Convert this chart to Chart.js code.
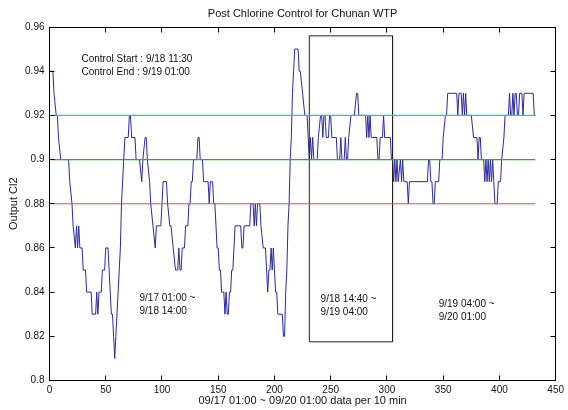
<!DOCTYPE html>
<html>
<head>
<meta charset="utf-8">
<script src="https://cdn.jsdelivr.net/npm/chart.js@4.4.1/dist/chart.umd.min.js"></script>
<style>
  html, body { margin: 0; padding: 0; background: #fff; }
  #wrap { width: 568px; height: 410px; }
</style>
</head>
<body>
<div id="wrap"><canvas id="chlorineChart" width="568" height="410"></canvas></div>
<script>
// sample number (10 min steps) and output Cl2, vertices of the plotted trace
const chlorineSamples = [
  [1,.94],[3,.94],[4,.93],[6,.92],[7,.92],[8,.91],[10,.90],[17,.90],[18,.89],[20,.88],[21,.87],[23,.86],[24,.87],[25,.86],[26,.87],[27,.86],[29,.86],[30,.85],[32,.85],[33,.84],
  [37,.84],[38,.83],[41,.83],[42,.84],[43,.83],[44,.84],[46,.84],[47,.85],[49,.85],[50,.86],[52,.86],[53,.85],[54,.84],[55,.83],[56,.83],[57,.82],[58,.81],[59,.82],[60,.83],
  [61,.84],[62,.85],[63,.86],[64,.88],[65,.89],[66,.90],[67,.91],[70,.91],[71,.92],[72,.92],[73,.91],[76,.91],[77,.90],[80,.90],[82,.89],[83,.90],[85,.91],[86,.91],[87,.90],
  [89,.89],[90,.88],[92,.87],[94,.86],[95,.87],[99,.87],[100,.88],[101,.89],[104,.89],[105,.88],[107,.87],[108,.87],[110,.86],[112,.85],[114,.85],[115,.86],[116,.85],[117,.85],
  [118,.86],[120,.86],[121,.87],[123,.87],[124,.88],[125,.88],[126,.89],[127,.89],[128,.90],[131,.90],[132,.91],[133,.91],[134,.90],[136,.90],[137,.89],[141,.89],[142,.88],
  [143,.89],[145,.89],[146,.88],[147,.88],[148,.87],[149,.86],[150,.86],[151,.85],[152,.85],[153,.84],[155,.84],[156,.83],[157,.84],[158,.83],[159,.83],[160,.84],[161,.84],
  [162,.85],[163,.85],[164,.86],[165,.87],[170,.87],[171,.86],[172,.86],[173,.87],[178,.87],[179,.88],[181,.88],[182,.87],[183,.88],[184,.87],[185,.88],[187,.88],[188,.87],
  [190,.86],[192,.86],[193,.85],[194,.84],[195,.85],[196,.85],[197,.86],[198,.85],[199,.86],[200,.85],[201,.84],[202,.84],[203,.83],[207,.83],[208,.82],[209,.82],[210,.84],
  [211,.85],[212,.87],[213,.88],[214,.90],[215,.91],[216,.93],[217,.94],[218,.95],[221,.95],[222,.94],[223,.94],[225,.93],[227,.92],[229,.92],[230,.91],[231,.90],[232,.91],
  [233,.90],[234,.91],[235,.90],[238,.90],[239,.91],[241,.92],[242,.92],[243,.91],[244,.92],[245,.92],[246,.91],[248,.91],[249,.92],[250,.92],[251,.91],[255,.91],[256,.90],
  [258,.90],[259,.91],[260,.90],[262,.90],[263,.91],[264,.90],[265,.90],[266,.91],[268,.92],[271,.92],[273,.93],[274,.93],[275,.92],[281,.92],[282,.91],[283,.92],[284,.91],
  [285,.92],[286,.91],[291,.91],[292,.90],[293,.90],[294,.91],[296,.91],[297,.92],[298,.91],[303,.91],[304,.90],[305,.90],[306,.89],[307,.90],[308,.89],[309,.90],[310,.89],
  [312,.90],[313,.89],[314,.90],[315,.89],[318,.89],[319,.88],[320,.89],[336,.89],[337,.90],[338,.90],[339,.89],[340,.89],[341,.88],[342,.88],[343,.89],[346,.89],[347,.90],
  [349,.90],[350,.91],[352,.92],[353,.92],[354,.93],[362,.93],[363,.92],[364,.93],[366,.93],[367,.92],[368,.93],[369,.92],[370,.93],[371,.92],[375,.92],[377,.91],[380,.91],
  [381,.90],[382,.91],[383,.91],[384,.90],[386,.90],[387,.89],[388,.90],[389,.89],[390,.90],[391,.89],[392,.90],[393,.89],[394,.90],[395,.89],[396,.88],[398,.88],[399,.89],
  [401,.89],[402,.90],[404,.91],[405,.92],[408,.92],[409,.93],[410,.92],[411,.92],[412,.93],[413,.92],[414,.93],[415,.93],[416,.92],[417,.92],[418,.93],[420,.93],[421,.92],
  [422,.93],[430,.93],[431,.92],[432,.92]
];

// control band: upper, target, lower
const bandLevels = [0.92, 0.90, 0.88];
const bandColors = ['#22c4d0', '#2eaa2e', '#e44a4a'];
const sampleRange = [1, 432];

// control window box (samples / Cl2)
const boxX = [231, 305];
const boxY = [0.8175, 0.956];

const xTicks = [0, 450, 50];      // min, max, step
const yTicks = [0.8, 0.96, 0.02];

const notes = [
    { x: 28.4, y: 0.9455, lines: ['Control Start : 9/18 11:30', 'Control End : 9/19 01:00'] },
    { x: 80, y: 0.8373, lines: ['9/17 01:00 ~', '9/18 14:00'] },
    { x: 241, y: 0.8368, lines: ['9/18 14:40 ~', '9/19 04:00'] },
    { x: 346, y: 0.8345, lines: ['9/19 04:00 ~', '9/20 01:00'] }
];

const titleText = 'Post Chlorine Control for Chunan WTP';
const xLabel = '09/17 01:00 ~ 09/20 01:00 data per 10 min';
const yLabel = 'Output Cl2';

const FONT = "'Liberation Sans', Arial, sans-serif";
const INK = '#111';

const crisp = v => Math.floor(v) + 0.5;

const matlabFrame = {
    id: 'matlabFrame',
    afterDatasetsDraw(chart) {
        const { ctx, chartArea: a, scales } = chart;
        const l = crisp(a.left), r = crisp(a.right), t = crisp(a.top), b = crisp(a.bottom);
        ctx.save();
        ctx.strokeStyle = '#000';
        ctx.lineWidth = 1;
        ctx.strokeRect(l, t, r - l, b - t);
        ctx.beginPath();
        scales.x.ticks.forEach(tk => {
            const px = crisp(scales.x.getPixelForValue(tk.value));
            ctx.moveTo(px, b); ctx.lineTo(px, b - 5);
            ctx.moveTo(px, t); ctx.lineTo(px, t + 5);
        });
        scales.y.ticks.forEach(tk => {
            const py = crisp(scales.y.getPixelForValue(tk.value));
            ctx.moveTo(l, py); ctx.lineTo(l + 5, py);
            ctx.moveTo(r, py); ctx.lineTo(r - 5, py);
        });
        ctx.stroke();
        ctx.restore();
    },
    afterDraw(chart) {
        const { ctx, chartArea: a, scales } = chart;
        const cx = (a.left + a.right) / 2;
        ctx.save();
        ctx.fillStyle = INK;
        ctx.font = `11px ${FONT}`;
        ctx.textAlign = 'center';
        ctx.textBaseline = 'middle';
        ctx.fillText(titleText, cx, 14);
        ctx.fillText(xLabel, cx, 401);
        ctx.save();
        ctx.translate(14, (a.top + a.bottom) / 2);
        ctx.rotate(-Math.PI / 2);
        ctx.fillText(yLabel, 0, 0);
        ctx.restore();

        ctx.font = `10px ${FONT}`;
        ctx.textAlign = 'left';
        notes.forEach(n => {
            const px = scales.x.getPixelForValue(n.x);
            const py = scales.y.getPixelForValue(n.y);
            n.lines.forEach((s, i) => ctx.fillText(s, px, py + i * 13));
        });
        ctx.restore();
    }
};

const datasets = [{
    label: 'Output Cl2',
    data: chlorineSamples.map(([x, y]) => ({ x, y })),
    borderColor: '#2a2a9e',
    borderWidth: 1,
    pointRadius: 0,
    tension: 0,
    order: 5
}];
bandLevels.forEach((lv, i) => {
    datasets.push({
        label: 'band' + i,
        data: sampleRange.map(x => ({ x, y: lv })),
        borderColor: bandColors[i],
        borderWidth: 1.2,
        pointRadius: 0,
        order: 1
    });
});
datasets.push({
    label: 'window',
    data: [
        { x: boxX[0], y: boxY[0] }, { x: boxX[0], y: boxY[1] },
        { x: boxX[1], y: boxY[1] }, { x: boxX[1], y: boxY[0] },
        { x: boxX[0], y: boxY[0] }
    ],
    borderColor: '#222',
    borderWidth: 1,
    pointRadius: 0,
    order: 2
});

new Chart(document.getElementById('chlorineChart'), {
    type: 'line',
    data: { datasets },
    options: {
        responsive: false,
        animation: false,
        events: [],
        layout: { padding: { top: 27, right: 6.5, left: 0, bottom: 0 } },
        plugins: { legend: { display: false }, tooltip: { enabled: false }, title: { display: false } },
        scales: {
            x: {
                type: 'linear',
                min: xTicks[0], max: xTicks[1],
                grid: { display: false, drawTicks: false },
                border: { display: false },
                ticks: { stepSize: xTicks[2], padding: 4, color: INK, font: { family: FONT, size: 10 }, maxRotation: 0 },
                afterFit: s => { s.height = 29.5; }
            },
            y: {
                min: yTicks[0], max: yTicks[1],
                grid: { display: false, drawTicks: false },
                border: { display: false },
                ticks: {
                    stepSize: yTicks[2], padding: 5, color: INK, font: { family: FONT, size: 10 },
                    callback: v => String(parseFloat(v.toFixed(2)))
                },
                afterFit: s => { s.width = 49.5; }
            }
        }
    },
    plugins: [matlabFrame]
});
</script>
</body>
</html>
